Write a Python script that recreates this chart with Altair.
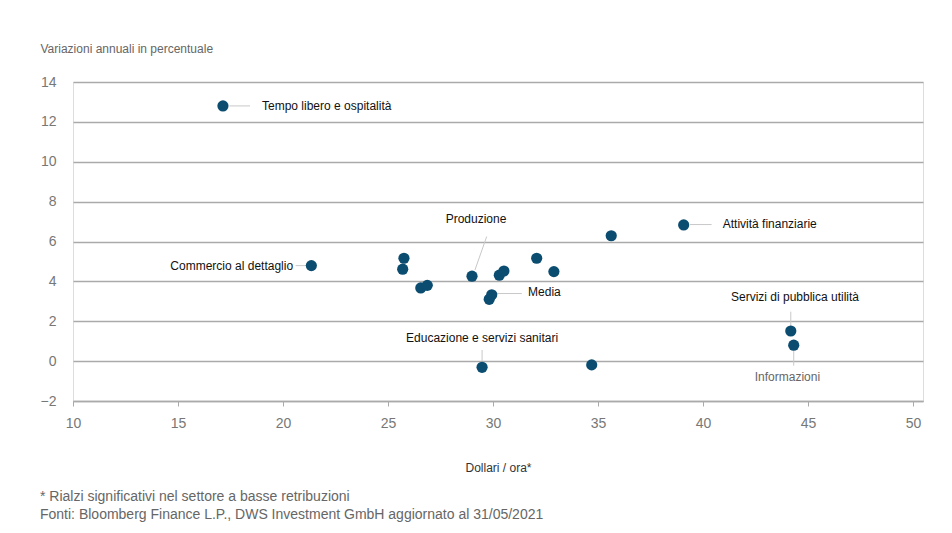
import altair as alt
import pandas as pd

# Sector points: hourly wage (USD) vs annual % change
wage = [17.14, 21.35, 25.76, 25.70, 26.56, 26.87, 29.00, 30.30, 30.52, 29.82,
        29.94, 32.08, 32.90, 35.63, 39.08, 29.48, 34.70, 44.18, 44.32]
growth = [12.80, 4.79, 5.16, 4.61, 3.67, 3.80, 4.26, 4.31, 4.52, 3.10,
          3.33, 5.16, 4.49, 6.29, 6.83, -0.31, -0.19, 1.51, 0.80]

# Annotation labels (anchor in data units)
labels = ["Tempo libero e ospitalità", "Commercio al dettaglio", "Produzione",
          "Media", "Attività finanziarie", "Educazione e servizi sanitari",
          "Servizi di pubblica utilità", "Informazioni"]
label_x = [19.00, 20.48, 29.19, 31.67, 40.94, 29.48, 44.38, 44.02]
label_y = [12.80, 4.79, 7.13, 3.47, 6.88, 1.18, 3.20, -0.78]
label_align = ["left", "right", "center", "left", "left", "center", "center", "center"]
label_color = ["#111111", "#111111", "#111111", "#111111", "#111111", "#111111", "#111111", "#666666"]

# Leader lines (data units)
lead_x1 = [17.45, 20.60, 29.70, 30.18, 39.38, 29.48, 44.18, 44.32]
lead_y1 = [12.80, 4.79, 6.25, 3.39, 6.85, 0.56, 2.48, 0.52]
lead_x2 = [18.43, 21.25, 29.14, 31.37, 40.41, 29.48, 44.18, 44.32]
lead_y2 = [12.80, 4.79, 4.57, 3.39, 6.85, -0.03, 1.76, -0.23]

x_ticks = [10, 15, 20, 25, 30, 35, 40, 45, 50]
y_ticks = [-2, 0, 2, 4, 6, 8, 10, 12, 14]

pts = pd.DataFrame({"wage": wage, "growth": growth})
ann = pd.DataFrame({"label": labels, "lx": label_x, "ly": label_y,
                    "align": label_align, "color": label_color})
leads = pd.DataFrame({"x1": lead_x1, "y1": lead_y1, "x2": lead_x2, "y2": lead_y2})

FONT = "Liberation Sans"

xscale = alt.Scale(domain=[10, 50.476], nice=False, zero=False)
yscale = alt.Scale(domain=[-2, 14], nice=False, zero=False)

xaxis = alt.Axis(values=x_ticks, grid=False, domain=True, domainColor="#aaaaaa",
                 domainWidth=1.5, ticks=True, tickColor="#aaaaaa", tickSize=5,
                 tickWidth=1, labelFontSize=14, labelColor="#777777", labelFont=FONT,
                 labelPadding=10, labelFlush=False, labelOverlap=False,
                 title="Dollari / ora*", titleFont=FONT,
                 titleFontSize=12, titleFontWeight="normal", titleColor="#333333",
                 titleY=66, titleBaseline="middle")
yaxis = alt.Axis(values=y_ticks, grid=True, gridColor="#aaaaaa", gridWidth=1.5,
                 domain=False, ticks=False, labelFontSize=14, labelColor="#777777",
                 labelFont=FONT, labelPadding=17, labelFlush=False, labelOverlap=False,
                 title="Variazioni annuali in percentuale", titleFont=FONT,
                 titleFontSize=12, titleFontWeight="normal", titleColor="#666666",
                 titleAngle=0, titleAlign="left", titleBaseline="middle",
                 titleX=-33, titleY=-34)

lines = alt.Chart(leads).mark_rule(color="#c8c8c8", strokeWidth=1).encode(
    x=alt.X("x1:Q", scale=xscale, axis=xaxis),
    y=alt.Y("y1:Q", scale=yscale, axis=yaxis),
    x2="x2:Q", y2="y2:Q")

points = alt.Chart(pts).mark_circle(size=125, opacity=1, color="#0b4d70").encode(
    x=alt.X("wage:Q", scale=xscale, axis=xaxis),
    y=alt.Y("growth:Q", scale=yscale, axis=yaxis))

def text_layer(align):
    return alt.Chart(ann).transform_filter(alt.datum.align == align).mark_text(
        align=align, baseline="middle", font=FONT, fontSize=12).encode(
        x=alt.X("lx:Q", scale=xscale, axis=xaxis),
        y=alt.Y("ly:Q", scale=yscale, axis=yaxis),
        text="label:N",
        color=alt.Color("color:N", scale=None))

chart = alt.layer(lines, points, text_layer("left"), text_layer("right"),
                  text_layer("center")).properties(
    width=850, height=319,
    autosize=alt.AutoSizeParams(type="none"),
    padding={"left": 65, "top": 74, "right": 13, "bottom": 130},
    title=alt.TitleParams(
        text=["* Rialzi significativi nel settore a basse retribuzioni",
              "Fonti: Bloomberg Finance L.P., DWS Investment GmbH aggiornato al 31/05/2021"],
        orient="bottom", anchor="start", dx=-33, offset=17, font=FONT,
        fontSize=14, fontWeight="normal", color="#666666", lineHeight=18,
        baseline="top", frame="group"),
).configure_view(stroke=None).configure(background="white")

chart.save("out.html", embed_options={"renderer": "svg", "actions": False})
